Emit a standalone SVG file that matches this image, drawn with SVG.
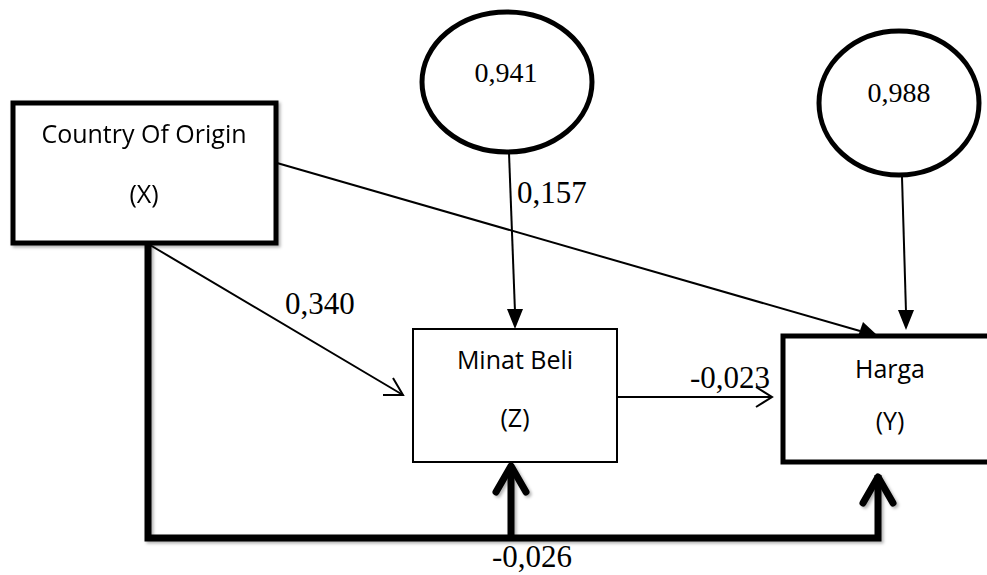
<svg xmlns="http://www.w3.org/2000/svg" width="987" height="575" viewBox="0 0 987 575">
  <defs>
    <style>
      .box { fill: #ffffff; stroke: #000000; }
      .thick { stroke-width: 5; }
      .thin { stroke-width: 2; }
      .oval { fill: #ffffff; stroke: #000000; stroke-width: 5; }
      .lbl { font-family: "Open Sans", "Liberation Sans", sans-serif; font-size: 25px; fill: #000000; text-anchor: middle; }
      .num { font-family: "Liberation Serif", "Times New Roman", serif; font-size: 31px; fill: #000000; }
      .onum { font-family: "Liberation Serif", "Times New Roman", serif; font-size: 28px; fill: #000000; text-anchor: middle; }
      .line { fill: none; stroke: #000000; stroke-width: 2; }
      .open { fill: none; stroke: #000000; stroke-width: 2; }
      .heavy { fill: none; stroke: #000000; stroke-width: 7; }
    </style>
    <filter id="shade" x="-10%" y="-10%" width="130%" height="130%">
      <feDropShadow dx="2" dy="2" stdDeviation="1.5" flood-color="#000000" flood-opacity="0.3" />
    </filter>
  </defs>

  <!-- connectors -->
  <g id="connectors">
    <!-- X -> Y -->
    <line class="line" x1="277" y1="163" x2="860" y2="331" />
    <path d="M877,335 L857,339 L863,322 Z" fill="#000000" />
    <!-- error term -> Y -->
    <line class="line" x1="902" y1="177" x2="906" y2="312" />
    <path d="M906,330 L898,310 L914,310 Z" fill="#000000" />
    <!-- error term -> Z -->
    <line class="line" x1="509" y1="153" x2="515" y2="312" />
    <path d="M515,329 L507,309 L523,309 Z" fill="#000000" />
    <!-- X -> Z -->
    <line class="line" x1="150" y1="245" x2="403" y2="395" />
    <path class="open" d="M383,395 L403,395 L393,378" />
    <!-- Z -> Y -->
    <line class="line" x1="617" y1="397" x2="772" y2="397" />
    <path class="open" d="M756,387 L772,397 L756,407" />
    <!-- heavy route from X to Z and Y -->
    <g filter="url(#shade)">
      <path class="heavy" d="M148,243 L148,538 L878,538 L878,475" />
      <path class="heavy" d="M511,538 L511,466" />
      <path class="heavy" stroke-linecap="round" stroke-linejoin="round" d="M496,492 L511,466 L526,492" />
      <path class="heavy" stroke-linecap="round" stroke-linejoin="round" d="M863,503 L878,477 L893,503" />
    </g>
  </g>

  <!-- Country Of Origin -->
  <g id="node-x" filter="url(#shade)">
    <rect class="box thick" x="13" y="103" width="263" height="140" />
    <text class="lbl" x="144" y="143">Country Of Origin</text>
    <text class="lbl" x="144" y="203">(X)</text>
  </g>

  <!-- Minat Beli -->
  <g id="node-z">
    <rect class="box thin" x="413" y="329" width="204" height="133" />
    <text class="lbl" x="515" y="369">Minat Beli</text>
    <text class="lbl" x="515" y="427">(Z)</text>
  </g>

  <!-- Harga -->
  <g id="node-y">
    <rect class="box thick" x="783" y="336" width="220" height="126" />
    <text class="lbl" x="890" y="378">Harga</text>
    <text class="lbl" x="890" y="430">(Y)</text>
  </g>

  <!-- residual of Z -->
  <g id="error-z">
    <ellipse class="oval" cx="507" cy="82" rx="85" ry="70" />
    <text class="onum" x="506" y="82">0,941</text>
  </g>

  <!-- residual of Y -->
  <g id="error-y">
    <ellipse class="oval" cx="899" cy="103" rx="80" ry="72" />
    <text class="onum" x="899" y="102">0,988</text>
  </g>

  <!-- path coefficients -->
  <g id="coefficients">
    <text class="num" x="517" y="203">0,157</text>
    <text class="num" x="285" y="314">0,340</text>
    <text class="num" x="690" y="388">-0,023</text>
    <text class="num" x="492" y="567">-0,026</text>
  </g>
</svg>
